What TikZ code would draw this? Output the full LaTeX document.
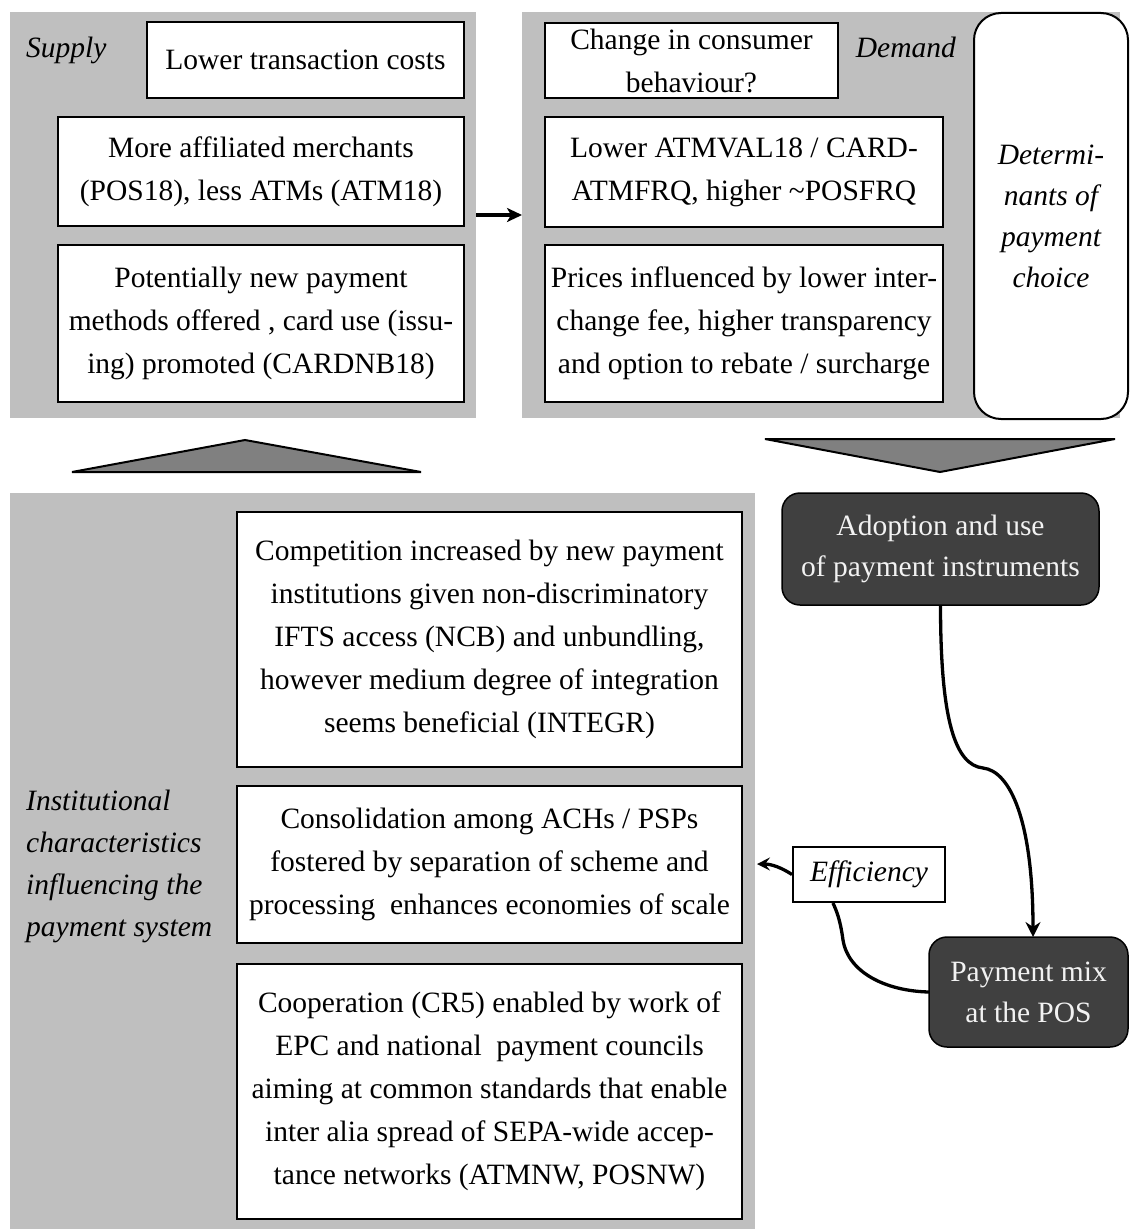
\documentclass[tikz,border=0pt]{standalone}
\usepackage{fontspec}
\setmainfont{Liberation Serif}
\usetikzlibrary{arrows.meta}
\definecolor{panelgray}{HTML}{BFBFBF}
\definecolor{darkbox}{HTML}{404040}
\definecolor{trigray}{HTML}{808080}
\definecolor{lighttext}{HTML}{F2F2F2}

\begin{document}
\begin{tikzpicture}[x=1pt,y=-1pt,
  panel/.style={fill=panelgray, draw=none, inner sep=0pt, outer sep=0pt},
  textbox/.style={draw=black, line width=2pt, fill=white, align=center,
    inner sep=0pt, outer sep=0pt, font=\fontsize{29.5}{43}\selectfont},
  darkround/.style={draw=black, line width=1.5pt, fill=darkbox, text=lighttext,
    rounded corners=18pt, align=center, inner sep=0pt, outer sep=0pt,
    font=\fontsize{29.5}{41}\selectfont},
  sidelabel/.style={inner sep=0pt, font=\fontsize{29.5}{42}\selectfont\itshape},
  wedge/.style={fill=trigray, draw=black, line width=2pt, line join=miter},
  link/.style={line width=3.3pt, -{Stealth[length=15pt,width=15pt,inset=5pt]}},
  plainlink/.style={line width=3.3pt}
]
\useasboundingbox (0,0) rectangle (1130,1231);
\fill[white] (0,0) rectangle (1130,1231);

% upper panels: supply side and demand side
\node[panel, minimum width=466pt, minimum height=406pt] (supply) at (243,215) {};
\node[panel, minimum width=598pt, minimum height=406pt] (demand) at (821,215) {};

\node[sidelabel, anchor=base west] (supplylbl) at (26,58) {Supply};
\node[textbox, minimum width=317pt, minimum height=76pt] (costs) at (305.5,60)
  {Lower transaction costs};
\node[textbox, minimum width=406pt, minimum height=109pt] (merchants) at (261,171.5)
  {More affiliated merchants\\(POS18), less ATMs (ATM18)};
\node[textbox, minimum width=406pt, minimum height=157pt] (methods) at (261,323.5)
  {Potentially new payment\\methods offered , card use (issu-\\ing) promoted (CARDNB18)};

\node[textbox, minimum width=293pt, minimum height=75pt] (behaviour) at (691.5,60.5)
  {Change in consumer\\behaviour?};
\node[sidelabel, anchor=base east] (demandlbl) at (956,58) {Demand};
\node[textbox, minimum width=398pt, minimum height=110pt] (atmval) at (744,172)
  {Lower ATMVAL18 / CARD-\\ATMFRQ, higher \textasciitilde POSFRQ};
\node[textbox, minimum width=398pt, minimum height=157pt] (prices) at (744,323.5)
  {Prices influenced by lower inter-\\change fee, higher transparency\\and option to rebate / surcharge};

\node[textbox, rounded corners=27pt, minimum width=154pt, minimum height=406pt,
  font=\fontsize{29.5}{41}\selectfont\itshape] (determinants) at (1051,216)
  {Determi-\\nants of\\payment\\choice};

% supply feeds demand
\draw[line width=3.7pt, -{Stealth[length=15pt,width=14pt,inset=4pt]}]
  (supply.east) -- (demand.west);

% wedges between the upper and the lower part
\filldraw[wedge] (245,440) -- (421,472) -- (72,472) -- cycle;
\filldraw[wedge] (765,439) -- (1115,439) -- (940,472) -- cycle;

% lower panel: institutional characteristics
\node[panel, minimum width=745pt, minimum height=736pt] (inst) at (382.5,861) {};
\node[sidelabel, anchor=west, align=left] (instlbl) at (26,866)
  {Institutional\\characteristics\\influencing the\\payment system};
\node[textbox, minimum width=505pt, minimum height=255pt] (competition) at (489.5,639.5)
  {Competition increased by new payment\\institutions given non-discriminatory\\IFTS access (NCB) and unbundling,\\however medium degree of integration\\seems beneficial (INTEGR)};
\node[textbox, minimum width=505pt, minimum height=157pt] (consolidation) at (489.5,864.5)
  {Consolidation among ACHs / PSPs\\fostered by separation of scheme and\\processing\ \ enhances economies of scale};
\node[textbox, minimum width=505pt, minimum height=255pt] (cooperation) at (489.5,1091.5)
  {Cooperation (CR5) enabled by work of\\EPC and national\ \ payment councils\\aiming at common standards that enable\\inter alia spread of SEPA-wide accep-\\tance networks (ATMNW, POSNW)};

% outcome boxes
\node[darkround, minimum width=317pt, minimum height=112pt] (adoption) at (940.5,549)
  {Adoption and use\\of payment instruments};
\node[darkround, minimum width=199pt, minimum height=110pt] (paymix) at (1028.5,992)
  {Payment mix\\at the POS};
\node[draw=black, line width=2pt, fill=white, inner sep=0pt, minimum width=152pt,
  minimum height=55pt, font=\fontsize{29.5}{36}\selectfont\itshape] (efficiency) at (869,874.5)
  {Efficiency};

\coordinate (effin) at (757,864);

% adoption leads to the payment mix
\draw[link] (adoption.south) .. controls +(0,115) and (955,765) .. (983,768)
  .. controls (1010,771) and (1033,820) .. ([xshift=4.5pt]paymix.north);
% the payment mix feeds back through efficiency
\draw[plainlink] (paymix.west) .. controls (885,991) and (848,972) .. (843,940)
  .. controls (840,918) and (836,910) .. ([xshift=-36pt]efficiency.south);
\draw[line width=3.3pt, -{Stealth[length=13pt,width=13pt,inset=5pt]}]
  (efficiency.west) .. controls (782,868) and (772,864) .. (effin);
\end{tikzpicture}
\end{document}
